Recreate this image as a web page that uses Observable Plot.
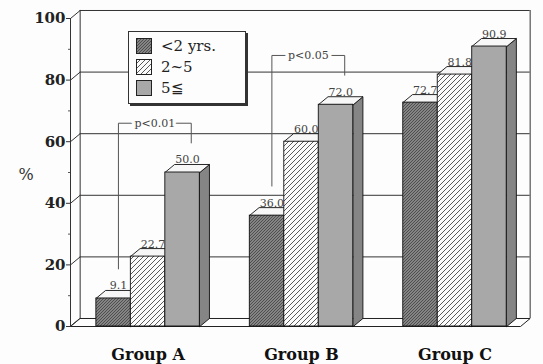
<!DOCTYPE html>
<html>
<head>
<meta charset="utf-8">
<script src="https://cdn.jsdelivr.net/npm/d3@7"></script>
<script src="https://cdn.jsdelivr.net/npm/@observablehq/plot@0.6"></script>
<style>
  html, body { margin: 0; padding: 0; background: #fdfdfd; }
  #wrap { position: relative; width: 543px; height: 364px; }
  #legend {
    position: absolute; left: 128px; top: 31px; width: 116px; height: 71px;
    border: 1px solid #333; box-shadow: 2px 2px 0 #333; background: #fdfdfd;
    font-family: "DejaVu Serif", serif; font-size: 15px; color: #222;
  }
  .item { position: absolute; left: 7px; height: 17px; display: flex; align-items: center; }
  .item svg { margin-right: 9px; }
</style>
</head>
<body>
<div id="wrap"></div>
<script>
// Share of patients per group, by duration
const groups = ["Group A", "Group B", "Group C"];
const seriesNames = ["<2 yrs.", "2~5", "5≦"];
const under2 = [9.1, 36.0, 72.7];
const twoToFive = [22.7, 60.0, 81.8];
const fivePlus = [50.0, 72.0, 90.9];
const yTicks = [0, 20, 40, 60, 80, 100];
const yMinor = [10, 30, 50, 70, 90];
const pGroups = ["Group A", "Group B"];
const pLabels = ["p<0.01", "p<0.05"];

// layout in x-units (one unit = one bar width)
const X_MAX = 13.05, START = 0.75, STEP = 4.45;
const DX = 0.28, DY = 2.6; // depth offset of the 3-D boxes
const fronts = ["url(#p-dark)", "url(#p-hatch)", "#a8a8a8"];
const sides = ["#666", "#cfcfcf", "#858585"];
const seriesValues = [under2, twoToFive, fivePlus];

const bars = groups.flatMap((g, i) => seriesValues.map((vals, s) => {
  const x1 = START + i * STEP + s;
  return {group: g, gi: i, s, value: vals[i], x1, x2: x1 + 1};
}));
const poly = (b, pts) => pts.map(([x, y]) => ({id: `${b.group}-${b.s}`, s: b.s, x, y}));
const topFace = b => poly(b, [[b.x1, b.value], [b.x2, b.value], [b.x2 + DX, b.value + DY], [b.x1 + DX, b.value + DY]]);
const sideFace = b => poly(b, [[b.x2, 0], [b.x2 + DX, DY], [b.x2 + DX, b.value + DY], [b.x2, b.value]]);

const floor = [[0, 0], [X_MAX, 0], [X_MAX + DX, DY], [DX, DY]].map(([x, y]) => ({x, y}));

const barMarks = [0, 1, 2].flatMap(s => {
  const bs = bars.filter(b => b.s === s);
  return [
    Plot.line(bs.flatMap(sideFace), {x: "x", y: "y", z: "id", curve: "linear-closed", fill: sides[s], stroke: "#111", strokeWidth: 0.9}),
    Plot.line(bs.flatMap(topFace), {x: "x", y: "y", z: "id", curve: "linear-closed", fill: "#f7f7f7", stroke: "#111", strokeWidth: 0.9}),
    Plot.rectY(bs, {x1: "x1", x2: "x2", y1: 0, y2: "value", fill: fronts[s], stroke: "#111", strokeWidth: 0.9})
  ];
});

// significance brackets from the shortest to the tallest bar of a group
const brackets = pGroups.map((g, k) => {
  const gb = bars.filter(b => b.group === g);
  const lo = gb[0], hi = gb[2];
  const level = hi.value + 16;
  const xl = (lo.x1 + lo.x2) / 2 + DX / 2, xr = (hi.x1 + hi.x2) / 2 + DX * 0.9;
  return {label: pLabels[k], xl, xr, level, lb: lo.value + DY + 7, rb: hi.value + DY + 7};
});
const bracketPts = brackets.flatMap((b, k) => [
  {k, x: b.xl, y: b.lb}, {k, x: b.xl, y: b.level}, {k, x: b.xr, y: b.level}, {k, x: b.xr, y: b.rb}
]);

const chart = Plot.plot({
  width: 543,
  height: 364,
  marginLeft: 70,
  marginRight: 23,
  marginTop: 18,
  marginBottom: 38,
  style: {background: "#fdfdfd", fontFamily: "DejaVu Serif, serif", color: "#222"},
  x: {domain: [0, X_MAX], axis: null},
  y: {domain: [0, 100], axis: null},
  marks: [
    // floor and back wall
    Plot.line(floor, {x: "x", y: "y", curve: "linear-closed", fill: "#fdfdfd", stroke: "#222", strokeWidth: 1}),
    Plot.ruleY(yTicks.slice(1), {y: d => d + DY, x1: DX, x2: X_MAX + DX, stroke: "#333", strokeWidth: 1}),
    Plot.ruleX([DX, X_MAX + DX], {y1: DY, y2: 100 + DY, stroke: "#333", strokeWidth: 1}),
    Plot.ruleX([0], {y1: 0, y2: 100, stroke: "#333", strokeWidth: 1}),
    Plot.link(yTicks, {x1: 0, y1: d => d, x2: DX, y2: d => d + DY, stroke: "#333", strokeWidth: 1}),
    Plot.axisY({ticks: yTicks, tickSize: 4, tickPadding: 1, fontSize: 15, fontWeight: "bold", fill: "#222", stroke: "#333", label: null}),
    Plot.axisY({ticks: yMinor, tickSize: 2, text: null, label: null, stroke: "#555"}),
    Plot.text(["%"], {frameAnchor: "left", dx: -52, y: 50, dy: 2, fontSize: 16, fill: "#333"}),
    // brackets
    Plot.line(bracketPts, {x: "x", y: "y", z: "k", stroke: "#555", strokeWidth: 1}),
    Plot.text(brackets, {x: d => (d.xl + d.xr) / 2, y: "level", text: "label", fontSize: 11, fill: "#444", stroke: "#fdfdfd", strokeWidth: 7}),
    // boxes
    ...barMarks,
    // value labels
    Plot.text(bars, {x: d => (d.x1 + d.x2) / 2 + DX / 2, y: d => d.value + DY, text: d => d.value.toFixed(1), lineAnchor: "bottom", dy: -1, fontSize: 11, fill: "#444"}),
    // group labels
    Plot.text(groups, {x: (g, i) => START + i * STEP + 1.5, y: 0, text: d => d, dy: 28, fontSize: 16, fontWeight: "bold", fill: "#111", letterSpacing: 1.5})
  ]
});

const svg = d3.select(chart);
const defs = svg.insert("defs", ":first-child");
const dark = defs.append("pattern").attr("id", "p-dark").attr("width", 3).attr("height", 3).attr("patternUnits", "userSpaceOnUse");
dark.append("rect").attr("width", 3).attr("height", 3).attr("fill", "#9c9c9c");
dark.append("path").attr("d", "M0,3L3,0M-1,1L1,-1M2,4L4,2").attr("stroke", "#4a4a4a").attr("stroke-width", 1.1);
const hatch = defs.append("pattern").attr("id", "p-hatch").attr("width", 5).attr("height", 5).attr("patternUnits", "userSpaceOnUse");
hatch.append("rect").attr("width", 5).attr("height", 5).attr("fill", "#fbfbfb");
hatch.append("path").attr("d", "M0,5L5,0M-1,1L1,-1M4,6L6,4").attr("stroke", "#5a5a5a").attr("stroke-width", 1);

const wrap = document.getElementById("wrap");
wrap.appendChild(chart);

// legend box
const legend = document.createElement("div");
legend.id = "legend";
seriesNames.forEach((name, s) => {
  const item = document.createElement("div");
  item.className = "item";
  item.style.top = (5 + s * 21) + "px";
  item.innerHTML = `<svg width="16" height="16"><rect x="0.5" y="0.5" width="15" height="15" fill="${fronts[s]}" stroke="#222"/></svg><span>${name}</span>`;
  legend.appendChild(item);
});
wrap.appendChild(legend);
</script>
</body>
</html>
